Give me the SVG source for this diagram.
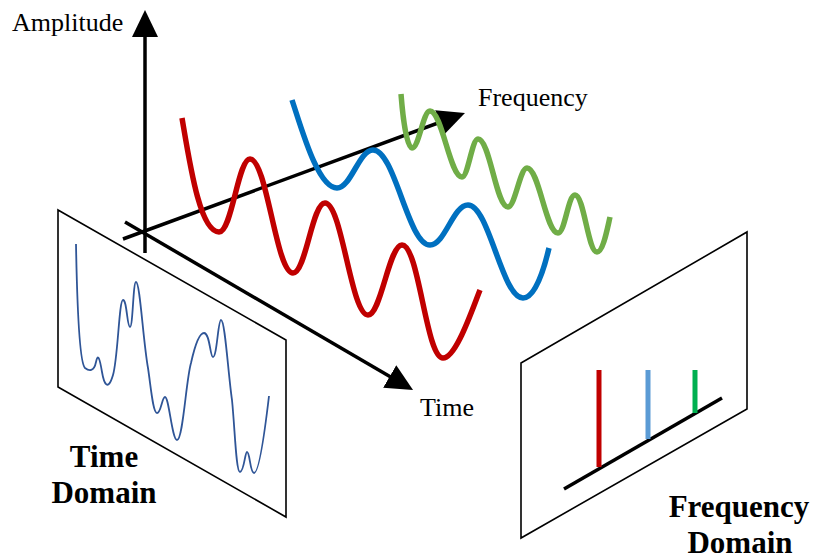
<svg xmlns="http://www.w3.org/2000/svg" width="813" height="558" viewBox="0 0 813 558">
<style>
.axis{stroke:#000;stroke-width:3.5;fill:none;marker-end:url(#ah)}
.panel{fill:#fff;stroke:#000;stroke-width:1.6}
.wave{fill:none;stroke-width:5.5;stroke-linecap:butt;stroke-linejoin:round}
.lbl{font-family:"Liberation Serif","Times New Roman",serif;font-size:26px;fill:#000}
.big{font-family:"Liberation Serif","Times New Roman",serif;font-size:31px;font-weight:bold;fill:#000;text-anchor:middle}
.bar{stroke-width:5}
</style>
<defs>
<marker id="ah" markerUnits="userSpaceOnUse" markerWidth="27" markerHeight="26" viewBox="0 0 27 26" refX="17" refY="13" orient="auto">
<path d="M0,0 L27,13 L0,26 z" fill="#000"/>
</marker>
</defs>
<g id="time-domain-panel">
<polygon class="panel" points="58,210 286,340 286,517 58,387"/>
<path d="M76,244 C77,300 79,362 85,368 C89,371 94,372 96,362 C98,352 100,360 102,372 C104,384 108,392 113,375 C118,358 119,300 123,300 C127,300 127,327 130,327 C133,327 133,282 136,282 C140,282 143,340 148,368 C151,388 153,413 157,413 C161,413 162,397 165,397 C169,397 172,440 177,440 C183,440 186,380 191,363 C195,345 199,333 204,333 C210,333 210,357 213,357 C217,357 218,320 221,320 C225,320 228,372 232,400 C235,430 236,472 240,472 C244,472 245,452 247,452 C250,452 250,473 254,473 C259,473 265,430 269,396" fill="none" stroke="#2F5597" stroke-width="1.8"/>
<text class="big" x="104" y="467">Time</text>
<text class="big" x="104" y="503">Domain</text>
</g>
<g id="frequency-domain-panel">
<polygon class="panel" points="521,363 747,232 747,409 521,538"/>
<line x1="564" y1="489" x2="722" y2="398" stroke="#000" stroke-width="3.5"/>
<line class="bar" x1="599" y1="370" x2="599" y2="467" stroke="#C00000"/>
<line class="bar" x1="648" y1="370" x2="648" y2="439" stroke="#5B9BD5"/>
<line class="bar" x1="695" y1="370" x2="695" y2="413" stroke="#00B050"/>
<text class="big" x="739" y="517">Frequency</text>
<text class="big" x="740" y="553">Domain</text>
</g>
<g id="connectors">
<line id="amplitude-axis" class="axis" x1="145" y1="253" x2="145" y2="20"/>
<line id="frequency-axis" class="axis" x1="123" y1="239" x2="455.6" y2="116.5"/>
<line id="time-axis" class="axis" x1="125" y1="222" x2="404.4" y2="385"/>
</g>
<g id="waves">
<path id="red-wave" class="wave" stroke="#C00000" d="M182,118 C190,165 200,232 219,232 C232,232 238,159 250,159 C267,159 276,273 293,273 C306,273 312,203 325,203 C342,203 351,315 368,315 C381,315 389,245 402,245 C419,245 426,358 443,358 C456,358 472,310 480,290"/>
<path id="blue-wave" class="wave" stroke="#0070C0" d="M292,100 C302,130 318,188 337,188 C351,188 359,150 373,150 C395,150 408,245 430,245 C445,245 453,205 468,205 C489,205 502,298 523,298 C536,298 545,265 549,248"/>
<path id="green-wave" class="wave" stroke="#70AD47" d="M401,94 C403,120 407,148 412,148 C419,148 423,111 430,111 C442,111 450,177 462,177 C468,177 472,139 478,139 C490,139 496,207 508,207 C515,207 520,168 527,168 C539,168 546,233 558,233 C565,233 568,195 575,195 C584,195 588,252 597,252 C603,252 607,230 610,217"/>
</g>
<g id="axis-labels">
<text class="lbl" x="12" y="31">Amplitude</text>
<text class="lbl" x="478" y="106">Frequency</text>
<text class="lbl" x="420" y="416">Time</text>
</g>
</svg>
